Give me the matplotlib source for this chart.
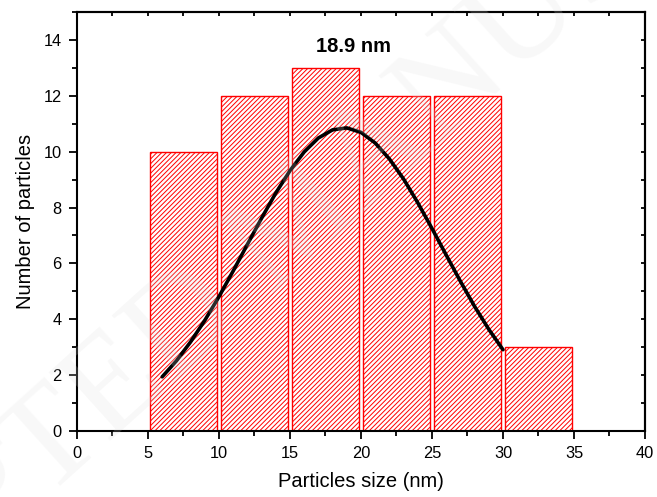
import matplotlib
matplotlib.use("Agg")
import matplotlib.pyplot as plt
from matplotlib.ticker import MultipleLocator

# histogram data (bin centres in nm, counts)
bin_centers = [7.5, 12.5, 17.5, 22.5, 27.5, 32.5]
counts = [10, 12, 13, 12, 12, 3]

# gaussian fit curve
fit_x = [6, 7, 8, 9, 10, 11, 12, 13, 14, 15, 16, 17, 18, 19, 20,
         21, 22, 23, 24, 25, 26, 27, 28, 29, 30]
fit_y = [1.94, 2.51, 3.19, 3.96, 4.81, 5.73, 6.68, 7.62, 8.52, 9.32,
         9.99, 10.49, 10.78, 10.85, 10.69, 10.31, 9.74, 9.02, 8.17,
         7.25, 6.30, 5.36, 4.46, 3.64, 2.91]

peak_label = "18.9 nm"

plt.rcParams["font.family"] = ["Liberation Sans", "DejaVu Sans"]
plt.rcParams["hatch.linewidth"] = 0.7
plt.rcParams["hatch.color"] = "red"

fig = plt.figure(figsize=(6.57, 4.97), dpi=100)
ax = fig.add_axes([0.1172, 0.1328, 0.8645, 0.8431])

ax.bar(bin_centers, counts, width=4.75, facecolor="white", edgecolor="red",
       hatch="///////", linewidth=1.0, zorder=2)
ax.plot(fit_x, fit_y, color="black", linewidth=2.6, zorder=3,
        solid_capstyle="round", solid_joinstyle="round")

ax.text(19.5, 13.78, peak_label, ha="center", va="center",
        fontsize=14.5, fontweight="bold")

ax.set_xlim(0, 40)
ax.set_ylim(0, 15)
ax.xaxis.set_major_locator(MultipleLocator(5))
ax.xaxis.set_minor_locator(MultipleLocator(2.5))
ax.yaxis.set_major_locator(MultipleLocator(2))
ax.yaxis.set_minor_locator(MultipleLocator(1))
ax.tick_params(which="major", direction="out", length=6, width=1.3,
               labelsize=11.8, pad=5)
ax.tick_params(which="minor", direction="out", length=3.6, width=1.3)

# top and right axes: inward ticks, no labels
top = ax.secondary_xaxis("top")
top.xaxis.set_major_locator(MultipleLocator(2.5))
top.tick_params(direction="in", length=3, width=1.3, labeltop=False)
right = ax.secondary_yaxis("right")
right.yaxis.set_major_locator(MultipleLocator(1))
right.tick_params(direction="in", length=3, width=1.3, labelright=False)

for sp in ax.spines.values():
    sp.set_linewidth(1.5)
top.spines["top"].set_linewidth(1.5)
right.spines["right"].set_linewidth(1.5)

ax.set_xlabel("Particles size (nm)", fontsize=14.5, labelpad=8)
ax.set_ylabel("Number of particles", fontsize=14.5, labelpad=6)

# faint watermark
fig.text(0.46, 0.55, "ACCEPTED MANUSCRIPT", rotation=42, rotation_mode="anchor",
         ha="center", va="center", fontsize=100, family="Liberation Serif",
         color="#dddddd", alpha=0.2, zorder=10)

fig.savefig("out.png", dpi=100)
